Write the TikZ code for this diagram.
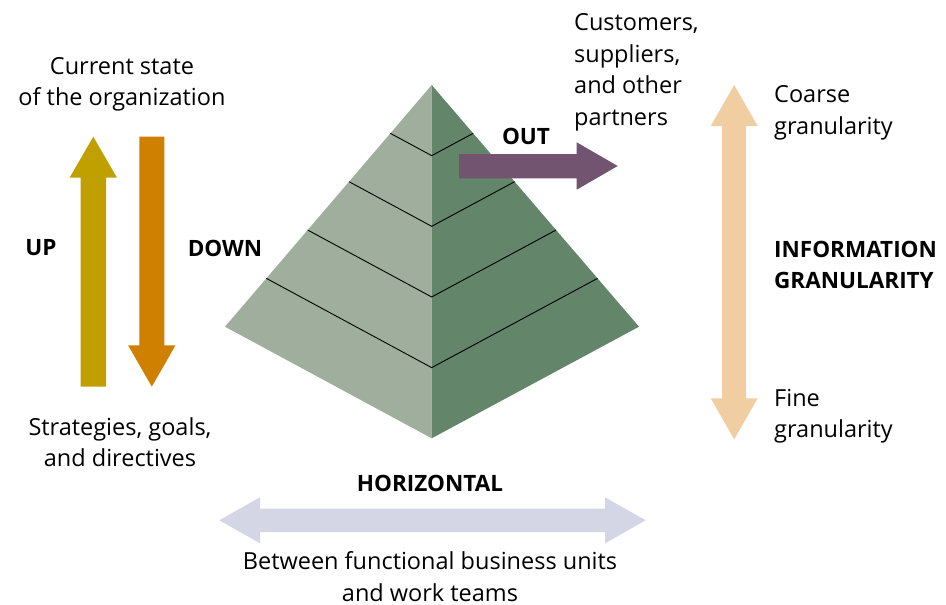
\documentclass[tikz,border=0pt]{standalone}
\usepackage{fontspec}
\setmainfont{Open Sans}
\usetikzlibrary{calc}
\definecolor{upcol}{RGB}{192,160,0}
\definecolor{downcol}{RGB}{208,128,0}
\definecolor{outcol}{RGB}{115,84,112}
\definecolor{grancol}{RGB}{240,206,162}
\definecolor{horcol}{RGB}{212,214,230}
\definecolor{leftface}{RGB}{160,175,157}
\definecolor{rightface}{RGB}{99,133,106}
\tikzset{
  lbl/.style={inner sep=0pt, font=\fontsize{23.5}{31.5}\selectfont, align=center},
  lbll/.style={inner sep=0pt, font=\fontsize{23.5}{31.5}\selectfont, align=left, anchor=west},
  bold/.style={font=\fontsize{22.5}{31}\selectfont\bfseries},
  layer/.style={draw=black, line width=0.9pt},
}
\begin{document}
\begin{tikzpicture}[x=1pt,y=-1pt]
\useasboundingbox (0,0) rectangle (946,605);
% pyramid
\coordinate (A) at (431.7,85);
\coordinate (L) at (225,326.7);
\coordinate (R) at (639,326.7);
\coordinate (B) at (431.7,438.3);
\fill[leftface] (A) -- (L) -- (B) -- cycle;
\fill[rightface] (A) -- (R) -- (B) -- cycle;
\foreach \t in {0.2,0.4,0.6,0.8}{
  \draw[layer] ($(A)!\t!(L)$) -- ($(A)!\t!(B)$) -- ($(A)!\t!(R)$);
}
% UP arrow
\fill[upcol] (80.5,386.7) -- (106.1,386.7) -- (106.1,177.7) -- (117,177.7) -- (93.3,136.7) -- (69.6,177.7) -- (80.5,177.7) -- cycle;
% DOWN arrow
\fill[downcol] (139.3,136.7) -- (164.3,136.7) -- (164.3,345.3) -- (175.5,345.3) -- (151.8,386.7) -- (128.1,345.3) -- (139.3,345.3) -- cycle;
% OUT arrow
\fill[outcol] (459,154) -- (576.7,154) -- (576.7,142.3) -- (617.7,166) -- (576.7,189.7) -- (576.7,178.3) -- (459,178.3) -- cycle;
% granularity arrow
\fill[grancol] (734.2,85) -- (757.7,126) -- (746.2,126) -- (746.2,398.3) -- (757.7,398.3) -- (734.2,439.3) -- (710.7,398.3) -- (722.2,398.3) -- (722.2,126) -- (710.7,126) -- cycle;
% horizontal arrow
\fill[horcol] (219.3,520.3) -- (260,497.3) -- (260,508.5) -- (605,508.5) -- (605,497.3) -- (645.7,520.3) -- (605,543.3) -- (605,532) -- (260,532) -- (260,543.3) -- cycle;
% labels
\node[lbl] (cur) at (122,84.5) {Current state\\of the organization};
\node[lbl, bold] (up) at (41,248) {UP};
\node[lbl, bold] (down) at (225,248) {DOWN};
\node[lbl] (strat) at (120,442) {Strategies, goals,\\and directives};
\node[lbl, bold] (out) at (526,136) {OUT};
\node[lbll] (cust) at (574,72.5) {Customers,\\suppliers,\\and other\\partners};
\node[lbll] (coarse) at (774,113) {Coarse\\granularity};
\node[lbll, bold] (info) at (774,264.5) {INFORMATION\\GRANULARITY};
\node[lbll] (fine) at (774,416) {Fine\\granularity};
\node[lbl, bold] (hor) at (430,483) {HORIZONTAL};
\node[lbl, anchor=south, text depth=0pt] (betw) at (430,601.5) {Between functional business units\\and work teams};
\end{tikzpicture}
\end{document}
